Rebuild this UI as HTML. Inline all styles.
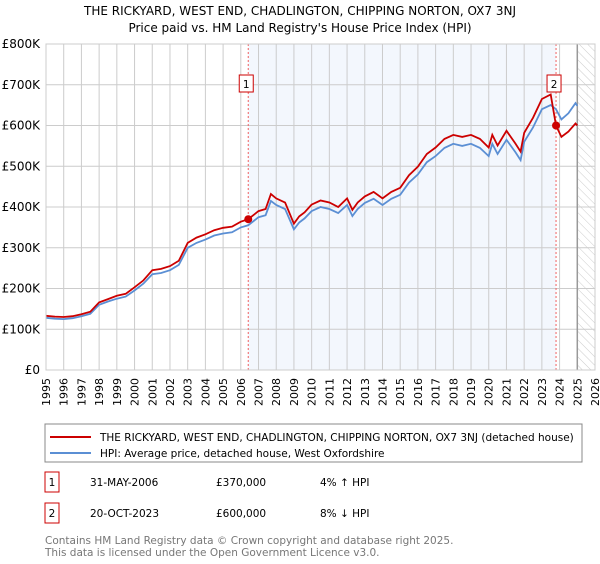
<!DOCTYPE html>
<html><head><meta charset="utf-8"><style>
body{margin:0;background:#fff;font-family:"DejaVu Sans","Liberation Sans",sans-serif;}
svg text{font-family:"DejaVu Sans","Liberation Sans",sans-serif;}
</style></head><body>
<svg id="c" width="600" height="560" viewBox="0 0 600 560">
<defs><pattern id="hatch" width="6" height="6" patternUnits="userSpaceOnUse" patternTransform="rotate(-45)"><line x1="0" y1="0" x2="0" y2="6" stroke="#ccc" stroke-width="1"/></pattern></defs>
<text x="300" y="15" text-anchor="middle" font-size="12" fill="#000">THE RICKYARD, WEST END, CHADLINGTON, CHIPPING NORTON, OX7 3NJ</text>
<text x="300" y="32" text-anchor="middle" font-size="12" fill="#000">Price paid vs. HM Land Registry's House Price Index (HPI)</text>
<g id="plot"></g>
<g>
<rect x="45" y="424" width="537" height="38" fill="#fff" stroke="#888"/>
<line x1="50" y1="437" x2="91" y2="437" stroke="#cc0000" stroke-width="2"/>
<text x="100" y="441" font-size="10.5">THE RICKYARD, WEST END, CHADLINGTON, CHIPPING NORTON, OX7 3NJ (detached house)</text>
<line x1="50" y1="453" x2="91" y2="453" stroke="#5b8fd4" stroke-width="2"/>
<text x="100" y="457" font-size="10.5">HPI: Average price, detached house, West Oxfordshire</text>
</g>
<g font-size="10.5">
<rect x="45" y="472" width="14" height="20" fill="#fff" stroke="#cc0000"/><text x="52" y="486" text-anchor="middle">1</text>
<text x="90" y="486">31-MAY-2006</text><text x="216" y="486">£370,000</text><text x="320" y="486">4% ↑ HPI</text>
<rect x="45" y="503" width="14" height="20" fill="#fff" stroke="#cc0000"/><text x="52" y="517" text-anchor="middle">2</text>
<text x="90" y="517">20-OCT-2023</text><text x="216" y="517">£600,000</text><text x="320" y="517">8% ↓ HPI</text>
</g>
<text x="45" y="544" font-size="10.5" fill="#777">Contains HM Land Registry data © Crown copyright and database right 2025.</text>
<text x="45" y="556" font-size="10.5" fill="#777">This data is licensed under the Open Government Licence v3.0.</text>
</svg>
<script>
const hpiYears=[1995,1995.5,1996,1996.5,1997,1997.5,1998,1998.5,1999,1999.5,2000,2000.5,2001,2001.5,2002,2002.5,2003,2003.5,2004,2004.5,2005,2005.5,2006,2006.42,2007,2007.4,2007.7,2008,2008.5,2009,2009.3,2009.6,2010,2010.5,2011,2011.5,2012,2012.3,2012.6,2013,2013.5,2014,2014.5,2015,2015.5,2016,2016.5,2017,2017.5,2018,2018.5,2019,2019.5,2020,2020.2,2020.5,2021,2021.5,2021.8,2022,2022.5,2023,2023.5,2023.8,2024.1,2024.5,2024.9,2025];
const hpiValues=[128,126,125,127,132,138,160,168,175,180,195,212,235,238,245,258,300,312,320,330,335,338,350,355,375,380,415,405,395,345,362,372,390,400,395,385,405,378,395,410,420,405,420,430,460,480,510,525,545,555,550,555,545,525,555,530,565,535,515,560,595,640,650,640,615,630,655,648];
const ppYears=[1995,1995.5,1996,1996.5,1997,1997.5,1998,1998.5,1999,1999.5,2000,2000.5,2001,2001.5,2002,2002.5,2003,2003.5,2004,2004.5,2005,2005.5,2006,2006.42,2007,2007.4,2007.7,2008,2008.5,2009,2009.3,2009.6,2010,2010.5,2011,2011.5,2012,2012.3,2012.6,2013,2013.5,2014,2014.5,2015,2015.5,2016,2016.5,2017,2017.5,2018,2018.5,2019,2019.5,2020,2020.2,2020.5,2021,2021.5,2021.8,2022,2022.5,2023,2023.5,2023.8,2024.1,2024.5,2024.9,2025];
const ppValues=[133,131,130,132,137,143,166,174,182,187,203,220,245,248,255,268,312,325,333,343,349,352,364,370,390,395,432,421,411,359,377,387,406,416,411,400,421,393,411,426,437,421,437,447,478,499,530,546,567,577,572,577,567,546,577,551,587,556,536,582,619,665,676,600,572,585,605,600];
const sales=[{n:"1",year:2006.42,value:370},{n:"2",year:2023.8,value:600}];
const yTicks=[0,100,200,300,400,500,600,700,800];
const yTickLabels=["£0","£100K","£200K","£300K","£400K","£500K","£600K","£700K","£800K"];
const xTicks=[1995,1996,1997,1998,1999,2000,2001,2002,2003,2004,2005,2006,2007,2008,2009,2010,2011,2012,2013,2014,2015,2016,2017,2018,2019,2020,2021,2022,2023,2024,2025,2026];

const L=46,R=595,T=44,B=370,NS="http://www.w3.org/2000/svg";
const X=y=>L+(y-1995)/(2026-1995)*(R-L);
const Y=v=>B-v/800*(B-T);
const g=document.getElementById('plot');
function el(tag,attrs,parent){const e=document.createElementNS(NS,tag);for(const k in attrs)e.setAttribute(k,attrs[k]);(parent||g).appendChild(e);return e;}
const shade=el('rect',{x:X(sales[0].year),y:T,width:X(sales[1].year)-X(sales[0].year),height:B-T,fill:'#eef3fc',opacity:0.7});


const hat=el('rect',{x:X(2025),y:T,width:R-X(2025),height:B-T,fill:'url(#hatch)'});


xTicks.forEach(t=>{const l=el('line',{x1:X(t),x2:X(t),y1:T,y2:B,stroke:'#ccc','stroke-width':1});


const tx=el('text',{x:0,y:0,'font-size':11,'text-anchor':'end',transform:`translate(${X(t)+4},378) rotate(-90)`});tx.textContent=t;

});
yTicks.forEach((t,i)=>{const l=el('line',{x1:L,x2:R,y1:Y(t),y2:Y(t),stroke:'#ccc','stroke-width':1});


const tx=el('text',{x:40,y:Y(t)+4,'font-size':12,'text-anchor':'end'});tx.textContent=yTickLabels[i];

});
const vl=el('line',{x1:X(2025),x2:X(2025),y1:T,y2:B,stroke:'#999','stroke-width':1.5});


sales.forEach(s=>{const l=el('line',{x1:X(s.year),x2:X(s.year),y1:T,y2:B,stroke:'#f06060','stroke-dasharray':'2,2','stroke-width':1});

});
function pts(xs,vs){return xs.map((x,i)=>X(x).toFixed(1)+','+Y(vs[i]).toFixed(1)).join(' ');}
const hl=el('polyline',{points:pts(hpiYears,hpiValues),fill:'none',stroke:'#5b8fd4','stroke-width':1.8});


const pl=el('polyline',{points:pts(ppYears,ppValues),fill:'none',stroke:'#cc0000','stroke-width':1.8});


sales.forEach(s=>{const c=el('circle',{cx:X(s.year),cy:Y(s.value),r:4,fill:'#cc0000'});


const bx=X(s.year)-9;const r=el('rect',{x:bx,y:75,width:14,height:17,fill:'#fff',stroke:'#cc0000'});


const t=el('text',{x:bx+7,y:88,'font-size':10.5,'text-anchor':'middle'});t.textContent=s.n;

});
el('rect',{x:L,y:T,width:R-L,height:B-T,fill:'none',stroke:'#ccc'});
</script>
</body></html>
